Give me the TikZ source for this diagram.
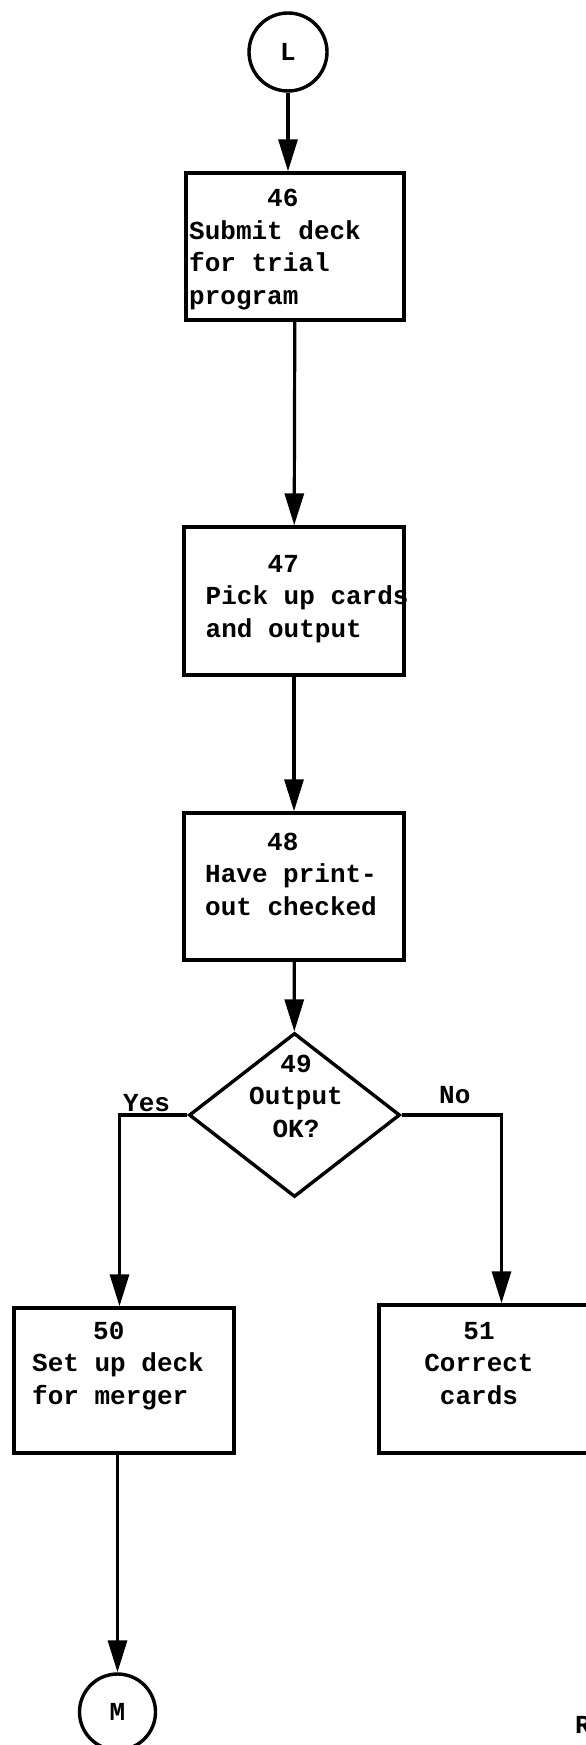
\documentclass[tikz,border=0pt]{standalone}
\usepackage{fontspec}
\setmonofont{Liberation Mono}
\usetikzlibrary{arrows.meta,shapes.geometric}
\newcommand{\tw}{\fontsize{26}{32.5}\selectfont\ttfamily\bfseries}
\tikzset{
  box/.style={draw, line width=3.4pt, rectangle, inner sep=0pt},
  ring/.style={draw, line width=3.4pt, circle, inner sep=0pt, minimum size=78pt, font=\tw},
  test/.style={draw, line width=3.4pt, diamond, inner sep=0pt},
  txt/.style={font=\tw, inner sep=0pt, align=left, anchor=base west},
  flow/.style={line width=3.2pt, -{Triangle[length=32pt,width=19pt]}}
}
\begin{document}
\begin{tikzpicture}[x=1pt,y=-1pt]
\useasboundingbox (0,0) rectangle (586,1745);
% steps 46 to 48 (text placed by its last baseline)
\node[ring] (L) at (288,52) {L};
\node[box, minimum width=218pt, minimum height=147pt] (b46) at (295,246.5) {};
\node[txt] (t46) at (189,304) {\hspace*{78pt}46\\Submit deck\\for trial\\program};
\node[box, minimum width=220pt, minimum height=148pt] (b47) at (294,601) {};
\node[txt] (t47) at (205.5,637) {\hspace*{62pt}47\\Pick up cards\\and output};
\node[box, minimum width=220pt, minimum height=147pt] (b48) at (294,886.5) {};
\node[txt] (t48) at (205,915) {\hspace*{62pt}48\\Have print-\\out checked};
% decision 49
\node[test, minimum width=211pt, minimum height=164pt] (d49) at (294.5,1115) {};
\node[txt, align=center, anchor=base] (t49) at (296,1137) {49\\Output\\OK?};
\node[txt] (yes) at (123,1111) {Yes};
\node[txt] (no) at (439,1103) {No};
% steps 50 and 51
\node[box, minimum width=220pt, minimum height=145pt] (b50) at (124,1380.5) {};
\node[txt] (t50) at (32,1404) {\hspace*{61pt}50\\Set up deck\\for merger};
\node[box, minimum width=211pt, minimum height=148pt] (b51) at (484.5,1379) {};
\node[txt, align=center, anchor=base] (t51) at (479,1404) {51\\Correct\\cards};
\node[ring, minimum size=76pt] (M) at (117.5,1712) {M};
\node[txt] (R) at (575,1733) {R};
% connectors
\draw[flow] (L.south) -- (L.south |- b46.north);
\draw[flow] (b46) -- (b47);
\draw[flow] (b47) -- (b48);
\draw[flow] (b48) -- (d49);
\draw[flow] (d49.west) -| ([xshift=-4.5pt]b50.north);
\draw[flow] (d49.east) -| ([xshift=17pt]b51.north);
\draw[flow] (M.north |- b50.south) -- (M.north);
\end{tikzpicture}
\end{document}
